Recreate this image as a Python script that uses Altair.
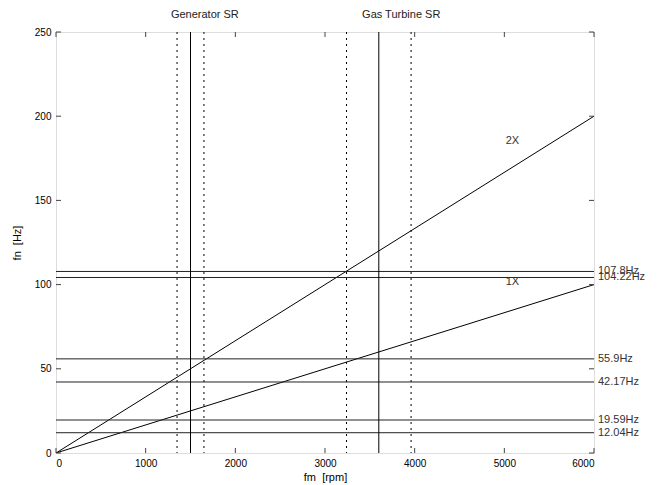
import altair as alt
import pandas as pd

# Speed axis ticks and frequency axis ticks
x_ticks = [0, 1000, 2000, 3000, 4000, 5000, 6000]
y_ticks = [0, 50, 100, 150, 200, 250]

# Excitation order lines (fm in rpm -> fn in Hz)
order_fm = [0, 6000]
order_1x = [0, 100]
order_2x = [0, 200]

# Natural frequencies (Hz)
nat_freqs = [107.8, 104.22, 55.9, 42.17, 19.59, 12.04]
nat_labels = ["107.8Hz", "104.22Hz", "55.9Hz", "42.17Hz", "19.59Hz", "12.04Hz"]

# Speed ranges: nominal speed and +/-10% band
sr_names = ["Generator SR", "Gas Turbine SR"]
sr_nominal = [1500, 3600]
sr_band = [1350, 1650, 3240, 3960]
sr_label_x = [1660, 3850]

# Order labels
order_names = ["2X", "1X"]
order_label_x = [5090, 5090]
order_label_y = [185.5, 101.7]

W, H = 538, 421
FONT = "Liberation Sans"
NBSP = "\u00a0"

xs = alt.Scale(domain=[0, 6000], nice=False, zero=False)
ys = alt.Scale(domain=[0, 250], nice=False, zero=False)

orders = pd.DataFrame({
    "fm": order_fm * 2,
    "fn": order_1x + order_2x,
    "order": ["1X"] * 2 + ["2X"] * 2,
})
nat = pd.DataFrame({"fn": nat_freqs, "label": nat_labels})
nominal = pd.DataFrame({"fm": sr_nominal})
band = pd.DataFrame({"fm": sr_band})
sr_text = pd.DataFrame({"fm": sr_label_x, "name": sr_names})
ord_text = pd.DataFrame({"fm": order_label_x, "fn": order_label_y, "name": order_names})
xt = pd.DataFrame({"v": x_ticks})
yt = pd.DataFrame({"v": y_ticks})

base_axes = alt.Chart(orders).mark_line(color="black", strokeWidth=1, clip=True).encode(
    x=alt.X("fm:Q", scale=xs,
            axis=alt.Axis(values=x_ticks, title="fm" + NBSP + " [rpm]", domain=False,
                          ticks=False, grid=False, labelPadding=5, titlePadding=3,
                          format="d", titleFontWeight="normal")),
    y=alt.Y("fn:Q", scale=ys,
            axis=alt.Axis(values=y_ticks, title="fn" + NBSP + " [Hz]", domain=False,
                          ticks=False, grid=False, labelPadding=5, titlePadding=12,
                          format="d", titleFontWeight="normal")),
    detail="order:N",
)

hlines = alt.Chart(nat).mark_rule(color="#222", strokeWidth=1).encode(
    y=alt.Y("fn:Q", scale=ys)
)
hlabels = alt.Chart(nat).mark_text(align="left", baseline="middle", dx=4,
                                   fontSize=11, font=FONT, color="#333").encode(
    x=alt.value(W),
    y=alt.Y("fn:Q", scale=ys),
    text="label:N",
)

vsolid = alt.Chart(nominal).mark_rule(color="black", strokeWidth=1).encode(
    x=alt.X("fm:Q", scale=xs)
)
vdot = alt.Chart(band).mark_rule(color="black", strokeWidth=1, strokeDash=[2, 4]).encode(
    x=alt.X("fm:Q", scale=xs)
)
srlabels = alt.Chart(sr_text).mark_text(baseline="middle", fontSize=11, font=FONT,
                                        color="#222").encode(
    x=alt.X("fm:Q", scale=xs),
    y=alt.value(-17),
    text="name:N",
)
ordlabels = alt.Chart(ord_text).mark_text(baseline="middle", fontSize=11, font=FONT,
                                          color="#333").encode(
    x=alt.X("fm:Q", scale=xs),
    y=alt.Y("fn:Q", scale=ys),
    text="name:N",
)

# Inward tick marks on all four sides
tk = 5
xb = alt.Chart(xt).mark_rule(color="#444").encode(
    x=alt.X("v:Q", scale=xs), y=alt.value(H), y2=alt.value(H - tk))
xtp = alt.Chart(xt).mark_rule(color="#444").encode(
    x=alt.X("v:Q", scale=xs), y=alt.value(0), y2=alt.value(tk))
yl = alt.Chart(yt).mark_rule(color="#444").encode(
    y=alt.Y("v:Q", scale=ys), x=alt.value(0), x2=alt.value(tk))
yr = alt.Chart(yt).mark_rule(color="#444").encode(
    y=alt.Y("v:Q", scale=ys), x=alt.value(W), x2=alt.value(W - tk))

chart = alt.layer(
    base_axes, hlines, vsolid, vdot, xb, xtp, yl, yr, hlabels, srlabels, ordlabels
).properties(
    width=W, height=H,
    autosize=alt.AutoSizeParams(type="none"),
    padding={"left": 56, "top": 32, "right": 70, "bottom": 32},
).configure_view(
    stroke="#444", strokeWidth=1
).configure_axis(
    labelFont=FONT, titleFont=FONT, labelFontSize=11, titleFontSize=11,
    labelColor="#333", titleColor="#222", titleFontWeight="normal"
).configure(background="white")

chart.save("out.html", embed_options={"renderer": "svg", "actions": False})
